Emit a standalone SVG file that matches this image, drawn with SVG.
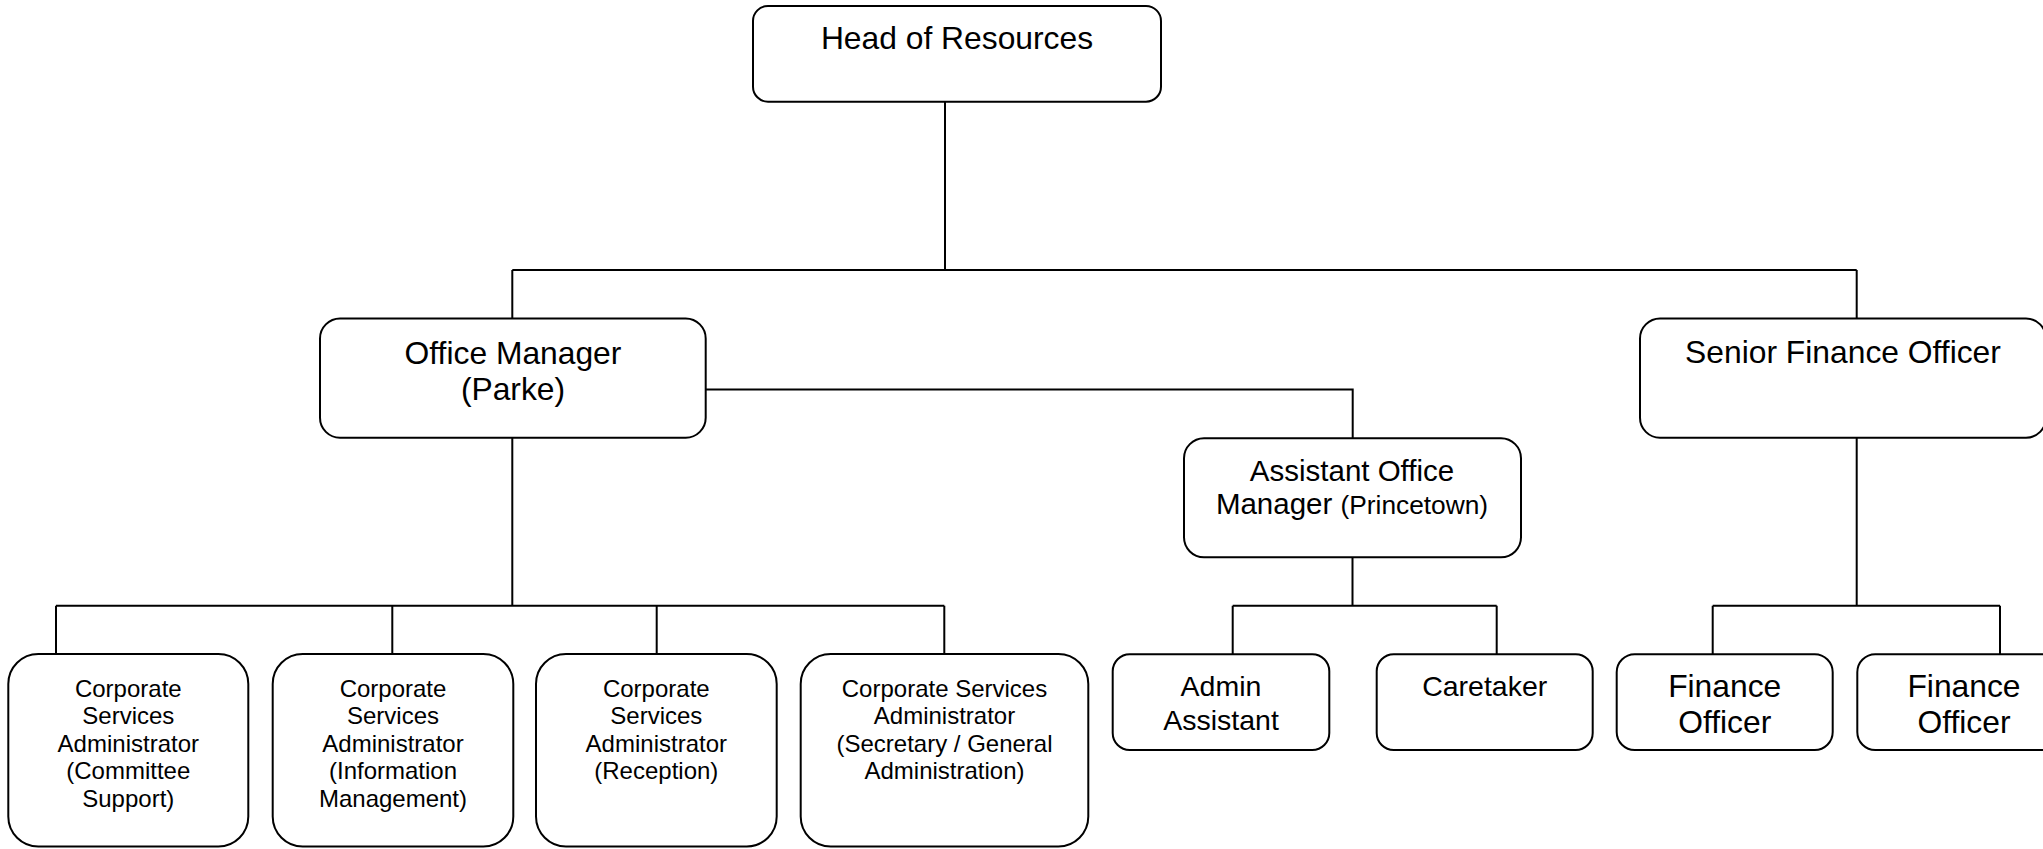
<svg xmlns="http://www.w3.org/2000/svg" width="2043" height="849" viewBox="0 0 2043 849">
<style>
.box{fill:#fff;stroke:#000;stroke-width:2}
.ln{fill:none;stroke:#000;stroke-width:2}
text{font-family:"Liberation Sans",Arial,sans-serif;fill:#000;text-anchor:middle}
.t32{font-size:31.8px}
.t28{font-size:28.5px}
.t24{font-size:24px}
</style>
<rect width="2043" height="849" fill="#fff"/>
<g id="connectors">
<path class="ln" d="M945 101.7V270M512.3 270H1856.7M512.3 270V318.5M1856.7 270V318.5"/>
<path class="ln" d="M705.7 389.5H1352.7V438.3"/>
<path class="ln" d="M512.3 437.7V605.7M56 605.7H944.3M56 605.7V654M392.3 605.7V654M656.7 605.7V654M944.3 605.7V654"/>
<path class="ln" d="M1352.5 557.3V605.7M1232.7 605.7H1496.7M1232.7 605.7V654.3M1496.7 605.7V654.3"/>
<path class="ln" d="M1856.7 437.7V605.7M1712.7 605.7H2000M1712.7 605.7V654.3M2000 605.7V654.3"/>
</g>
<g id="head">
<rect class="box" x="753" y="6" width="408" height="95.7" rx="15"/>
<text class="t32" x="957" y="49">Head of Resources</text>
</g>
<g id="office-manager">
<rect class="box" x="320" y="318.5" width="385.7" height="119.2" rx="20"/>
<text class="t32" x="513" y="364">Office Manager</text>
<text class="t32" x="513" y="400">(Parke)</text>
</g>
<g id="senior-finance-officer">
<rect class="box" x="1640" y="318.5" width="406" height="119.2" rx="20"/>
<text class="t32" x="1843" y="363">Senior Finance Officer</text>
</g>
<g id="assistant-office-manager">
<rect class="box" x="1184" y="438.3" width="337" height="119" rx="20"/>
<text style="font-size:29.5px" x="1352" y="481">Assistant Office</text>
<text style="font-size:29.5px" x="1352" y="514">Manager <tspan style="font-size:26.3px">(Princetown)</tspan></text>
</g>
<g id="csa-committee">
<rect class="box" x="8.3" y="654" width="240" height="192.5" rx="30"/>
<text class="t24" x="128.3" y="696.5"><tspan x="128.3">Corporate</tspan><tspan x="128.3" dy="27.5">Services</tspan><tspan x="128.3" dy="27.5">Administrator</tspan><tspan x="128.3" dy="27.5">(Committee</tspan><tspan x="128.3" dy="27.5">Support)</tspan></text>
</g>
<g id="csa-information">
<rect class="box" x="272.7" y="654" width="240.6" height="192.5" rx="30"/>
<text class="t24" x="393" y="696.5"><tspan x="393">Corporate</tspan><tspan x="393" dy="27.5">Services</tspan><tspan x="393" dy="27.5">Administrator</tspan><tspan x="393" dy="27.5">(Information</tspan><tspan x="393" dy="27.5">Management)</tspan></text>
</g>
<g id="csa-reception">
<rect class="box" x="536" y="654" width="240.7" height="192.5" rx="30"/>
<text class="t24" x="656.3" y="696.5"><tspan x="656.3">Corporate</tspan><tspan x="656.3" dy="27.5">Services</tspan><tspan x="656.3" dy="27.5">Administrator</tspan><tspan x="656.3" dy="27.5">(Reception)</tspan></text>
</g>
<g id="csa-secretary">
<rect class="box" x="800.7" y="654" width="287.6" height="192.5" rx="30"/>
<text class="t24" x="944.5" y="696.5"><tspan x="944.5">Corporate Services</tspan><tspan x="944.5" dy="27.5">Administrator</tspan><tspan x="944.5" dy="27.5">(Secretary / General</tspan><tspan x="944.5" dy="27.5">Administration)</tspan></text>
</g>
<g id="admin-assistant">
<rect class="box" x="1112.7" y="654.3" width="216.6" height="95.7" rx="17"/>
<text class="t28" x="1221" y="695.5">Admin</text>
<text class="t28" x="1221" y="729.5">Assistant</text>
</g>
<g id="caretaker">
<rect class="box" x="1376.7" y="654.3" width="216" height="95.7" rx="17"/>
<text class="t28" x="1484.7" y="695.5">Caretaker</text>
</g>
<g id="finance-officer-1">
<rect class="box" x="1616.7" y="654.3" width="216" height="95.7" rx="18"/>
<text class="t32" x="1724.7" y="697">Finance</text>
<text class="t32" x="1724.7" y="733">Officer</text>
</g>
<g id="finance-officer-2">
<rect class="box" x="1857.3" y="654.3" width="216" height="95.7" rx="18"/>
<text class="t32" x="1964" y="697">Finance</text>
<text class="t32" x="1964" y="733">Officer</text>
</g>
</svg>
